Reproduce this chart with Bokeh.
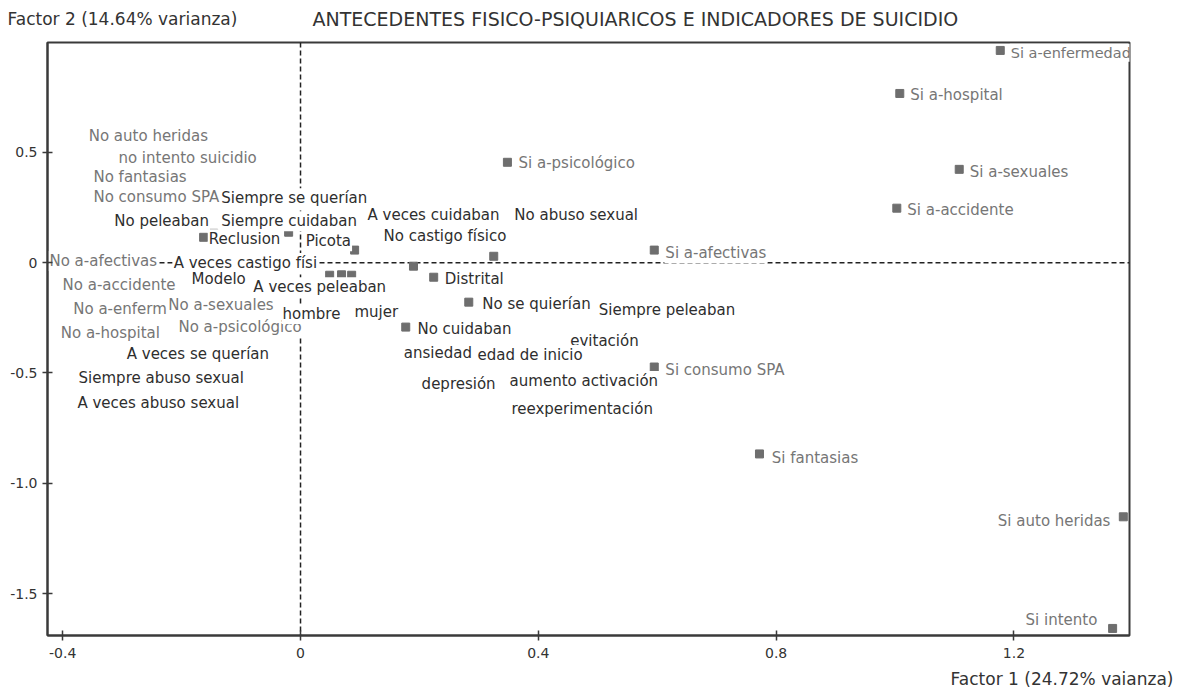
from bokeh.plotting import figure
from bokeh.models import ColumnDataSource, Range1d, FixedTicker, Span, Label
from bokeh.core.properties import value
from bokeh.embed import file_html
from bokeh.resources import INLINE

# ---------------- data (Factor 1, Factor 2 coordinates) -------------
labels = [
    "No auto heridas", "no intento suicidio", "No fantasias", "No consumo SPA",
    "Siempre se querían", "No peleaban", "Siempre cuidaban", "Reclusion", "Picota",
    "A veces cuidaban", "No abuso sexual", "No castigo físico", "No a-afectivas",
    "A veces castigo físi", "No a-accidente", "Modelo", "A veces peleaban",
    "No a-enferm", "No a-sexuales", "No a-hospital", "No a-psicológico", "hombre",
    "mujer", "A veces se querían", "Siempre abuso sexual", "A veces abuso sexual",
    "Distrital", "No se quierían", "Siempre peleaban", "No cuidaban", "evitación",
    "ansiedad", "edad de inicio", "Si consumo SPA", "depresión", "aumento activación",
    "reexperimentación", "Si a-psicológico", "Si a-afectivas", "Si fantasias",
    "Si a-enfermedad", "Si a-hospital", "Si a-sexuales", "Si a-accidente",
    "Si auto heridas", "Si intento",
]
label_f1 = [
    -0.358, -0.308, -0.350, -0.350,
    -0.135, -0.315, -0.135, -0.156, 0.007,
    0.111, 0.358, 0.138, -0.424,
    -0.215, -0.402, -0.185, -0.081,
    -0.384, -0.224, -0.405, -0.207, -0.032,
    0.089, -0.294, -0.375, -0.377,
    0.241, 0.304, 0.500, 0.195, 0.452,
    0.172, 0.296, 0.612, 0.202, 0.350,
    0.353, 0.365, 0.612, 0.791,
    1.193, 1.024, 1.124, 1.019,
    1.364, 1.342,
]
label_f2 = [
    0.572, 0.473, 0.387, 0.296,
    0.292, 0.188, 0.188, 0.106, 0.097,
    0.215, 0.215, 0.120, 0.007,
    -0.002, -0.102, -0.075, -0.111,
    -0.210, -0.192, -0.319, -0.292, -0.233,
    -0.224, -0.414, -0.523, -0.636,
    -0.075, -0.188, -0.215, -0.301, -0.355,
    -0.410, -0.419, -0.486, -0.550, -0.536,
    -0.663, 0.450, 0.043, -0.885,
    0.952, 0.758, 0.410, 0.238,
    -1.170, -1.618,
]
# "ant" = antecedentes (grey), "ind" = otros indicadores (dark)
label_group = [
    "ant", "ant", "ant", "ant",
    "ind", "ind", "ind", "ind", "ind",
    "ind", "ind", "ind", "ant",
    "ind", "ant", "ind", "ind",
    "ant", "ant", "ant", "ant", "ind",
    "ind", "ind", "ind", "ind",
    "ind", "ind", "ind", "ind", "ind",
    "ind", "ind", "ant", "ind", "ind",
    "ind", "ant", "ant", "ant",
    "ant", "ant", "ant", "ant",
    "ant", "ant",
]
label_side = ["left"] * 44 + ["right", "right"]

point_f1 = [0.348, 0.595, 0.595, 0.772, 1.177, 1.008, 1.108, 1.003, 1.384, 1.366,
            0.224, 0.283, 0.177, 0.091, 0.190, 0.325, -0.146, -0.163, -0.020,
            0.049, 0.069, 0.086]
point_f2 = [0.455, 0.057, -0.473, -0.867, 0.962, 0.767, 0.423, 0.247, -1.152, -1.658,
            -0.066, -0.179, -0.292, 0.057, -0.016, 0.029, 0.133, 0.115, 0.138,
            -0.057, -0.055, -0.057]

x_ticks = [-0.4, 0.0, 0.4, 0.8, 1.2]
x_tick_labels = ["-0.4", "0", "0.4", "0.8", "1.2"]
y_ticks = [0.5, 0.0, -0.5, -1.0, -1.5]
y_tick_labels = ["0.5", "0", "-0.5", "-1.0", "-1.5"]

title_text = "ANTECEDENTES FISICO-PSIQUIARICOS E INDICADORES DE SUICIDIO"
x_title = "Factor 1 (24.72% vaianza)"
y_title = "Factor 2 (14.64% varianza)"

# ---------------- styling ----------------
FONT = "DejaVu Sans"
GREY = "#767676"
DARK = "#2e2e2e"
AXIS = "#3a3a3a"

p = figure(width=1180, height=690, output_backend="svg", toolbar_location=None,
           x_range=Range1d(-0.4256, 1.3944), y_range=Range1d(-1.690, 0.998),
           min_border_left=47, min_border_right=51, min_border_top=41,
           min_border_bottom=55)
p.xgrid.visible = False
p.ygrid.visible = False
p.outline_line_color = AXIS
p.outline_line_width = 2
p.background_fill_color = "white"
p.border_fill_color = "white"

for ax, ticks, labs in ((p.xaxis, x_ticks, x_tick_labels), (p.yaxis, y_ticks, y_tick_labels)):
    ax.ticker = FixedTicker(ticks=ticks)
    ax.major_label_overrides = {t: l for t, l in zip(ticks, labs)}
    ax.axis_line_color = AXIS
    ax.axis_line_width = 2
    ax.major_tick_line_color = AXIS
    ax.major_tick_line_width = 1.5
    ax.major_tick_in = 5
    ax.major_tick_out = 5
    ax.minor_tick_line_color = None
    ax.major_label_text_font = FONT
    ax.major_label_text_font_size = "14px"
    ax.major_label_text_color = "#333333"
p.yaxis.major_label_standoff = 5
p.xaxis.major_label_standoff = 7

# dashed reference lines (underneath the labels)
p.add_layout(Span(location=0, dimension="height", line_color="#222222", line_width=1.5,
                  line_dash="5 3", level="underlay"))
p.add_layout(Span(location=0, dimension="width", line_color="#222222", line_width=1.5,
                  line_dash="5 3", level="underlay"))

# category points
p.scatter(point_f1, point_f2, marker="square", size=8, color="#6e6e6e")

# labels with white boxes (later labels hide earlier ones, as in the original)
src = ColumnDataSource(dict(
    x=label_f1, y=label_f2, text=labels,
    color=[GREY if g == "ant" else DARK for g in label_group],
    align=label_side,
    size=["14.5px" if t == "Si a-enfermedad" else "15px" for t in labels],
))
p.text(x="x", y="y", text="text", source=src, text_color="color", text_align="align",
       text_baseline="middle", text_font=value(FONT), text_font_size="size",
       background_fill_color="white", padding=1)

# titles in the side panels (screen units relative to each panel)
p.add_layout(Label(x=-40, y=24, x_units="screen", y_units="screen", text=y_title,
                   text_font=FONT, text_font_size="17px", text_color="#333333",
                   text_baseline="middle"), "above")
p.add_layout(Label(x=265, y=4, x_units="screen", y_units="screen", text=title_text,
                   text_font=FONT, text_font_size="19px", text_color="#333333",
                   text_baseline="middle"), "above")
p.add_layout(Label(x=1126, y=2, x_units="screen", y_units="screen", text=x_title,
                   text_font=FONT, text_font_size="17px", text_color="#333333",
                   text_baseline="middle", text_align="right"), "below")

open("out.html", "w").write(file_html(p, INLINE))
